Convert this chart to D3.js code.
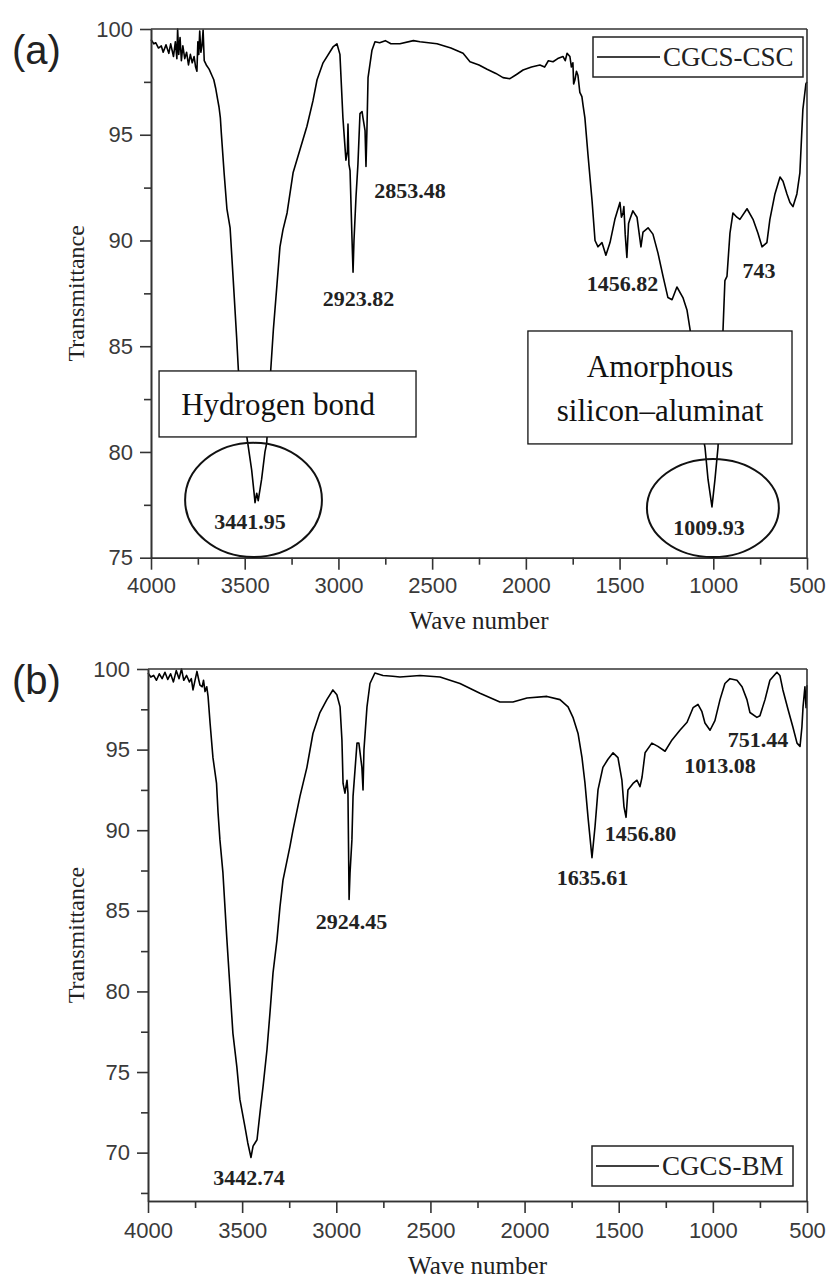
<!DOCTYPE html>
<html>
<head>
<meta charset="utf-8">
<script src="https://cdn.jsdelivr.net/npm/d3@7/dist/d3.min.js"></script>
<style>
  body { margin: 0; background: #fff; }
  svg { display: block; }
</style>
</head>
<body>
<div id="chart"></div>
<script>
// spectra: [wave number, transmittance]
const cscSpectrum = [[4000,99.5],[3985,99.3],[3975,99.35],[3960,99.1],[3945,99.2],[3935,98.9],[3920,99.25],[3905,98.85],[3895,99.3],[3880,98.7],[3870,99.4],[3862,98.6],[3858,100],[3852,98.8],[3845,99.6],[3838,98.5],[3830,99.2],[3820,98.6],[3810,98.9],[3800,98.3],[3790,98.8],[3780,98.4],[3770,98.7],[3762,98.2],[3755,98.0],[3750,99.4],[3745,98.8],[3740,99.9],[3734,98.9],[3728,99.2],[3722,99.95],[3716,98.5],[3705,98.3],[3690,98.1],[3675,97.8],[3665,97.6],[3655,97.2],[3645,96.7],[3637,96.3],[3630,95.8],[3625,95.1],[3610,93.2],[3595,91.5],[3578,90.6],[3561,88.1],[3543,85.4],[3534,83.9],[3510,82.0],[3481,80.25],[3463,79.15],[3450,78.05],[3445,77.6],[3436,78.05],[3428,77.7],[3410,78.7],[3392,80.0],[3383,80.4],[3370,82.2],[3361,83.9],[3347,85.8],[3328,87.9],[3312,89.7],[3296,90.5],[3274,91.3],[3242,93.2],[3205,94.3],[3168,95.4],[3136,96.6],[3114,97.6],[3082,98.4],[3029,99.15],[3008,99.3],[2992,98.8],[2976,95.8],[2960,93.8],[2952,94.2],[2949,95.5],[2944,93.6],[2938,93.3],[2928,90.2],[2922,88.5],[2917,90.0],[2906,92.1],[2896,93.6],[2885,96.0],[2874,96.1],[2869,95.8],[2858,95.2],[2853,93.5],[2848,95.2],[2842,97.7],[2821,99.0],[2805,99.4],[2780,99.35],[2750,99.45],[2720,99.3],[2672,99.3],[2600,99.45],[2565,99.4],[2474,99.3],[2400,99.1],[2335,98.85],[2298,98.45],[2250,98.3],[2207,98.1],[2160,97.9],[2122,97.7],[2085,97.65],[2050,97.85],[2015,98.06],[1970,98.2],[1925,98.3],[1900,98.2],[1880,98.5],[1855,98.45],[1830,98.6],[1802,98.7],[1790,98.5],[1780,98.85],[1765,98.7],[1757,98.2],[1749,98.4],[1745,97.4],[1738,97.6],[1730,98.0],[1722,97.8],[1712,97.0],[1701,96.8],[1695,96.4],[1685,95.8],[1669,94.1],[1647,91.9],[1631,90.0],[1615,89.7],[1594,89.9],[1573,89.3],[1551,89.9],[1525,91.0],[1498,91.8],[1490,91.1],[1482,91.3],[1477,91.6],[1470,90.3],[1461,89.2],[1452,90.8],[1445,91.0],[1429,91.4],[1407,91.1],[1386,89.7],[1375,90.4],[1348,90.6],[1322,90.3],[1295,89.4],[1268,88.3],[1242,87.3],[1220,87.2],[1194,87.8],[1162,87.3],[1140,86.7],[1124,85.8],[1098,83.5],[1071,81.5],[1044,80.2],[1028,78.7],[1007,77.4],[991,78.7],[975,80.2],[959,83.0],[948,85.8],[938,88.1],[927,88.3],[911,90.35],[895,91.3],[874,91.1],[858,91.0],[820,91.5],[788,91.0],[762,90.35],[740,89.7],[714,89.9],[698,91.0],[671,92.2],[644,93.0],[628,92.8],[607,92.2],[591,91.8],[575,91.6],[554,92.2],[538,93.2],[522,96.2],[506,97.4],[500,97.5]];

const bmSpectrum = [[4000,99.75],[3985,99.5],[3970,99.6],[3955,99.3],[3940,99.7],[3925,99.4],[3910,99.8],[3895,99.35],[3880,99.7],[3865,99.2],[3850,99.9],[3835,99.4],[3822,100],[3810,99.3],[3795,99.6],[3780,99.2],[3770,99.4],[3761,98.7],[3752,99.2],[3740,99.85],[3730,99.3],[3724,99.0],[3712,98.9],[3705,99.3],[3697,98.6],[3688,98.9],[3681,98.3],[3670,96.6],[3655,94.5],[3636,92.9],[3628,91.1],[3618,89.4],[3602,87.35],[3582,83.4],[3565,80.3],[3549,77.4],[3528,75.3],[3512,73.3],[3485,71.6],[3470,70.6],[3453,69.7],[3442,70.4],[3421,70.8],[3405,72.5],[3389,74.1],[3368,76.4],[3352,78.7],[3336,81.15],[3315,83.2],[3299,85.25],[3283,86.9],[3246,89.0],[3230,90.0],[3193,92.1],[3156,93.9],[3124,96.0],[3087,97.3],[3050,98.1],[3018,98.7],[2997,98.4],[2980,97.65],[2970,95.6],[2964,92.9],[2954,92.3],[2943,93.1],[2938,92.3],[2932,85.7],[2927,87.35],[2917,89.4],[2911,92.1],[2890,95.4],[2880,95.4],[2864,93.9],[2858,92.5],[2853,95.0],[2837,97.65],[2821,99.1],[2795,99.75],[2752,99.6],[2700,99.55],[2662,99.5],[2555,99.6],[2449,99.5],[2343,99.1],[2237,98.5],[2131,97.95],[2062,97.95],[1987,98.2],[1881,98.3],[1812,98.1],[1769,97.65],[1743,97.0],[1716,96.0],[1695,94.5],[1679,92.9],[1663,90.8],[1642,88.3],[1626,90.2],[1610,92.5],[1584,93.9],[1557,94.4],[1530,94.8],[1504,94.5],[1483,93.1],[1472,91.45],[1461,90.8],[1451,92.5],[1424,92.9],[1403,93.1],[1387,92.7],[1376,93.3],[1360,94.8],[1324,95.4],[1292,95.2],[1254,94.9],[1217,95.6],[1175,96.2],[1137,96.7],[1105,97.6],[1079,97.8],[1058,97.35],[1042,96.65],[1015,96.2],[989,96.8],[962,98.1],[936,99.1],[909,99.4],[872,99.3],[845,98.9],[819,98.1],[803,97.3],[766,97.0],[750,97.1],[723,98.1],[697,99.3],[660,99.8],[644,99.6],[628,98.7],[601,97.5],[575,96.4],[553,95.4],[537,95.2],[527,96.4],[521,97.65],[511,98.9],[505,97.6],[500,99.0]];

// ticks
const xTicks = [4000, 3500, 3000, 2500, 2000, 1500, 1000, 500];
const xMinor = [3750, 3250, 2750, 2250, 1750, 1250, 750];
const yTicksA = [75, 80, 85, 90, 95, 100];
const yMinorA = [77.5, 82.5, 87.5, 92.5, 97.5];
const yTicksB = [70, 75, 80, 85, 90, 95, 100];
const yMinorB = [67.5, 72.5, 77.5, 82.5, 87.5, 92.5, 97.5];

// peak labels: text, label centre (wave number, transmittance)
const cscPeaks = [["2853.48", 2618, 92.39], ["2923.82", 2893, 87.28], ["1456.82", 1485, 87.99],
                  ["743", 756, 88.6], ["3441.95", 3472, 76.74], ["1009.93", 1023, 76.45]];
const bmPeaks = [["2924.45", 2919, 84.33], ["3442.74", 3464, 68.45], ["1635.61", 1639, 87.05],
                 ["1456.80", 1384, 89.83], ["1013.08", 962, 94.05], ["751.44", 760, 95.66]];

const W = 828, H = 1282;
const svg = d3.select("#chart").append("svg").attr("width", W).attr("height", H);
svg.append("rect").attr("width", W).attr("height", H).attr("fill", "#fff");

const sans = "'Liberation Sans', Arial, sans-serif";
const serif = "'Liberation Serif', 'Times New Roman', serif";
const axisColor = "#333";

function drawPanel(o) {
  var x = d3.scaleLinear().domain([4000, 500]).range([o.left, o.right]);
  var y = d3.scaleLinear().domain(o.yDomain).range([o.bottom, o.top]);
  var g = svg.append("g");

  // spectrum
  g.append("path")
    .datum(o.data)
    .attr("fill", "none")
    .attr("stroke", "#000")
    .attr("stroke-width", 1.6)
    .attr("stroke-linejoin", "round")
    .attr("d", d3.line().x(d => x(d[0])).y(d => y(d[1])));

  // axes
  var xMin = g.append("g").attr("transform", "translate(0," + o.bottom + ")")
    .call(d3.axisBottom(x).tickValues(xMinor).tickSize(7).tickSizeOuter(0).tickFormat(""));
  var xAx = g.append("g").attr("transform", "translate(0," + o.bottom + ")")
    .call(d3.axisBottom(x).tickValues(xTicks).tickSize(12).tickSizeOuter(0)
      .tickPadding(o.xPad).tickFormat(d3.format("d")));
  var yMin = g.append("g").attr("transform", "translate(" + o.left + ",0)")
    .call(d3.axisLeft(y).tickValues(o.yMinor).tickSize(7).tickSizeOuter(0).tickFormat(""));
  var yAx = g.append("g").attr("transform", "translate(" + o.left + ",0)")
    .call(d3.axisLeft(y).tickValues(o.yTicks).tickSize(11).tickSizeOuter(0)
      .tickPadding(7).tickFormat(d3.format("d")));

  [xMin, xAx, yMin, yAx].forEach(a => {
    a.selectAll("path, line").attr("stroke", axisColor).attr("stroke-width", 1.6);
    a.selectAll("text").attr("fill", "#3a3a3a").attr("font-family", sans).attr("font-size", 22);
  });

  // frame top and right
  g.append("line").attr("x1", o.left).attr("x2", o.right).attr("y1", o.top).attr("y2", o.top)
    .attr("stroke", axisColor).attr("stroke-width", 1.6);
  g.append("line").attr("x1", o.right).attr("x2", o.right).attr("y1", o.top).attr("y2", o.bottom)
    .attr("stroke", axisColor).attr("stroke-width", 1.6);

  // axis titles
  g.append("text")
    .attr("x", (o.left + o.right) / 2).attr("y", o.bottom + o.xTitleOff)
    .attr("text-anchor", "middle").attr("font-family", serif).attr("font-size", 25)
    .attr("fill", "#222").text("Wave number");
  g.append("text")
    .attr("transform", "translate(84," + (o.top + o.bottom) / 2 + ") rotate(-90)")
    .attr("text-anchor", "middle").attr("font-family", serif).attr("font-size", 24)
    .attr("fill", "#222").text("Transmittance");

  // panel letter
  g.append("text").attr("x", 12).attr("y", o.top + o.letterOff)
    .attr("font-family", sans).attr("font-size", 40).attr("fill", "#222").text(o.letter);

  // peak labels
  g.selectAll(".peak").data(o.peaks).enter().append("text")
    .attr("x", d => x(d[1])).attr("y", d => y(d[2]))
    .attr("dy", "0.35em").attr("text-anchor", "middle")
    .attr("font-family", serif).attr("font-weight", "bold").attr("font-size", 22)
    .attr("fill", "#222").text(d => d[0]);

  // legend
  var lg = g.append("g").attr("transform", "translate(" + o.legend[0] + "," + o.legend[1] + ")");
  lg.append("rect").attr("width", o.legend[2]).attr("height", 40)
    .attr("fill", "#fff").attr("stroke", "#222").attr("stroke-width", 1.5);
  lg.append("line").attr("x1", 4).attr("x2", 67).attr("y1", 20).attr("y2", 20)
    .attr("stroke", "#000").attr("stroke-width", 1.6);
  lg.append("text").attr("x", 70).attr("y", 29)
    .attr("font-family", serif).attr("font-size", 27).attr("fill", "#222").text(o.name);

  return { x: x, y: y, g: g };
}

var a = drawPanel({
  data: cscSpectrum, left: 151, right: 807, top: 29, bottom: 557.7, yDomain: [75, 100],
  yTicks: yTicksA, yMinor: yMinorA, xPad: 7.5, xTitleOff: 71, letterOff: 35, letter: "(a)",
  peaks: cscPeaks, legend: [593, 37, 210], name: "CGCS-CSC"
});

var b = drawPanel({
  data: bmSpectrum, left: 148, right: 807, top: 669, bottom: 1201, yDomain: [67, 100],
  yTicks: yTicksB, yMinor: yMinorB, xPad: 9, xTitleOff: 73, letterOff: 25, letter: "(b)",
  peaks: bmPeaks, legend: [592, 1146, 201], name: "CGCS-BM"
});

// callout boxes and circles in panel (a)
function box(p, w0, w1, t0, t1) {
  p.g.append("rect")
    .attr("x", p.x(w0)).attr("y", p.y(t0))
    .attr("width", p.x(w1) - p.x(w0)).attr("height", p.y(t1) - p.y(t0))
    .attr("fill", "#fff").attr("stroke", "#111").attr("stroke-width", 1.3);
}
function ring(p, w, t, rw, rt) {
  p.g.append("ellipse")
    .attr("cx", p.x(w)).attr("cy", p.y(t))
    .attr("rx", p.x(w - rw) - p.x(w)).attr("ry", p.y(t - rt) - p.y(t))
    .attr("fill", "none").attr("stroke", "#111").attr("stroke-width", 2);
}
function note(p, w, t, txt) {
  p.g.append("text").attr("x", p.x(w)).attr("y", p.y(t)).attr("dy", "0.35em")
    .attr("text-anchor", "middle").attr("font-family", serif).attr("font-size", 31)
    .attr("fill", "#111").text(txt);
}

box(a, 3957, 2586, 83.83, 80.71);
note(a, 3322, 82.27, "Hydrogen bond");
box(a, 1989, 580, 85.72, 80.38);
note(a, 1284, 84.07, "Amorphous");
note(a, 1284, 81.98, "silicon\u2013aluminat");
ring(a, 3453, 77.73, 365, 2.70);
ring(a, 1002, 77.35, 352, 2.32);
</script>
</body>
</html>
